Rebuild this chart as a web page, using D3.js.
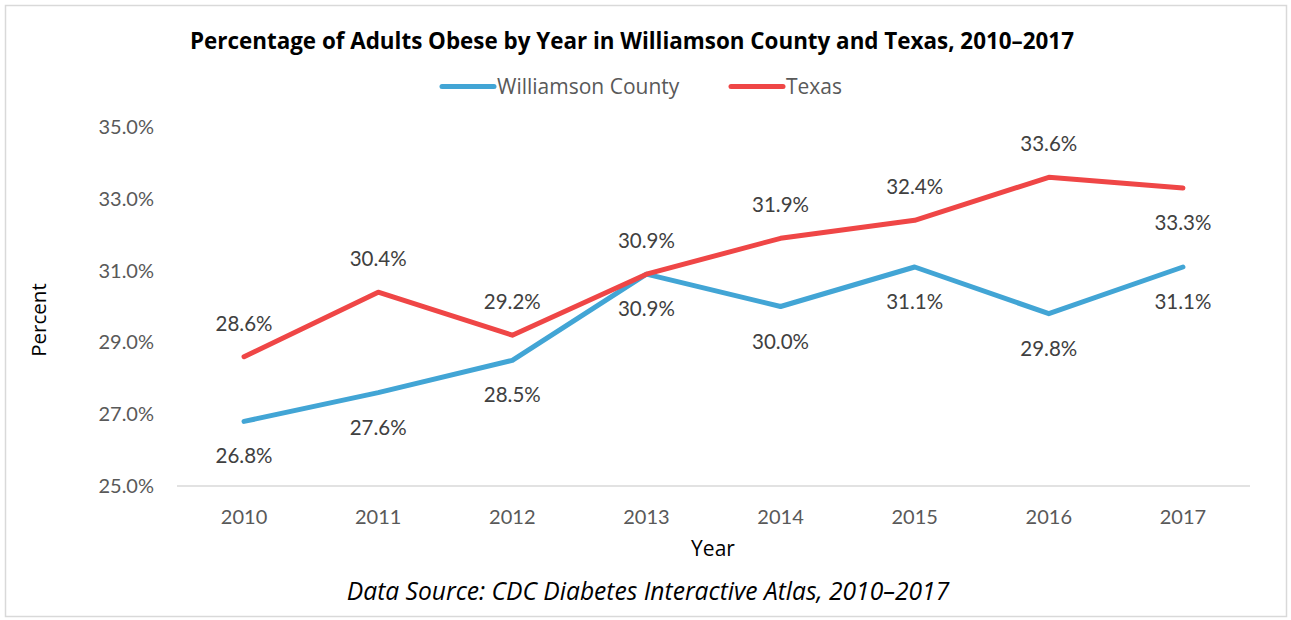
<!DOCTYPE html>
<html lang="en">
<head>
<meta charset="UTF-8">
<title>Adults Obese</title>
<script src="https://d3js.org/d3.v7.min.js"></script>
<style>
  body { margin: 0; background: white; font-family: Lato, 'Open Sans', sans-serif; }
  .os { font-family: 'Open Sans', sans-serif; }
</style>
</head>
<body>
<div id="chart"></div>
<script>
// data
const years = ["2010", "2011", "2012", "2013", "2014", "2015", "2016", "2017"];
const williamson = [26.8, 27.6, 28.5, 30.9, 30.0, 31.1, 29.8, 31.1];
const texas = [28.6, 30.4, 29.2, 30.9, 31.9, 32.4, 33.6, 33.3];
const yTicks = [25, 27, 29, 31, 33, 35];
// label above (-1) or below (1)
const williamsonPos = [1, 1, 1, 1, 1, 1, 1, 1];
const texasPos = [-1, -1, -1, -1, -1, -1, -1, 1];

const W = 1291, H = 620;
const margin = {top: 127, right: 41, bottom: 134, left: 177};

const svg = d3.select("#chart").append("svg")
    .attr("width", W).attr("height", H);

// outer border
svg.append("rect")
    .attr("x", 5.5).attr("y", 5.5)
    .attr("width", 1281).attr("height", 611)
    .attr("fill", "white").attr("stroke", "#d9d9d9").attr("stroke-width", 1.5);

const x = d3.scaleBand().domain(years).range([margin.left, W - margin.right]);
const y = d3.scaleLinear().domain([25, 35]).range([H - margin.bottom, margin.top]);
const cx = d => x(d) + x.bandwidth() / 2;

// title
svg.append("text").attr("class", "os")
    .attr("x", 632).attr("y", 49)
    .attr("text-anchor", "middle")
    .style("font-weight", "bold").style("font-size", "22.4px")
    .text("Percentage of Adults Obese by Year in Williamson County and Texas, 2010–2017");

// legend
const legend = [
  {name: "Williamson County", color: "#42a5d5", x: 442},
  {name: "Texas", color: "#ef4646", x: 731}
];
legend.forEach(l => {
  svg.append("line")
    .attr("x1", l.x).attr("x2", l.x + 52).attr("y1", 86.5).attr("y2", 86.5)
    .attr("stroke", l.color).attr("stroke-width", 5).attr("stroke-linecap", "round");
  svg.append("text").attr("class", "os")
    .attr("x", l.x + 55).attr("y", 94)
    .style("font-size", "21px").attr("fill", "#595959")
    .text(l.name);
});

// x axis line
svg.append("line")
    .attr("x1", margin.left).attr("x2", W - margin.right)
    .attr("y1", y(25)).attr("y2", y(25))
    .attr("stroke", "#d9d9d9").attr("stroke-width", 1.5);

// y tick labels
svg.append("g").selectAll("text")
    .data(yTicks).join("text")
    .attr("x", 154).attr("y", d => y(d) + 7)
    .attr("text-anchor", "end")
    .style("font-size", "20px").attr("fill", "#595959")
    .text(d => d.toFixed(1) + "%");

// x tick labels
svg.append("g").selectAll("text")
    .data(years).join("text")
    .attr("x", d => cx(d)).attr("y", 524)
    .attr("text-anchor", "middle")
    .style("font-size", "20px").attr("fill", "#595959")
    .text(d => d);

// axis titles
svg.append("text").attr("class", "os")
    .attr("x", 713).attr("y", 556)
    .attr("text-anchor", "middle").style("font-size", "21px")
    .text("Year");
svg.append("text").attr("class", "os")
    .attr("transform", "translate(46,320) rotate(-90)")
    .attr("text-anchor", "middle").style("font-size", "20.5px")
    .text("Percent");

// source
svg.append("text").attr("class", "os")
    .attr("x", 648).attr("y", 600)
    .attr("text-anchor", "middle").style("font-size", "24.6px").style("font-style", "italic")
    .text("Data Source: CDC Diabetes Interactive Atlas, 2010–2017");

// lines
const line = d3.line().x((d, i) => cx(years[i])).y(d => y(d));
const series = [
  {values: williamson, color: "#42a5d5", pos: williamsonPos},
  {values: texas, color: "#ef4646", pos: texasPos}
];
series.forEach(s => {
  svg.append("path")
    .datum(s.values)
    .attr("d", line)
    .attr("fill", "none").attr("stroke", s.color)
    .attr("stroke-width", 5).attr("stroke-linecap", "round").attr("stroke-linejoin", "round");
});
series.forEach(s => {
  svg.append("g").selectAll("text")
    .data(s.values).join("text")
    .attr("x", (d, i) => cx(years[i]))
    .attr("y", (d, i) => y(d) + (s.pos[i] < 0 ? -26 : 42))
    .attr("text-anchor", "middle")
    .style("font-size", "20.5px").attr("fill", "#404040")
    .text(d => d.toFixed(1) + "%");
});
</script>
</body>
</html>
